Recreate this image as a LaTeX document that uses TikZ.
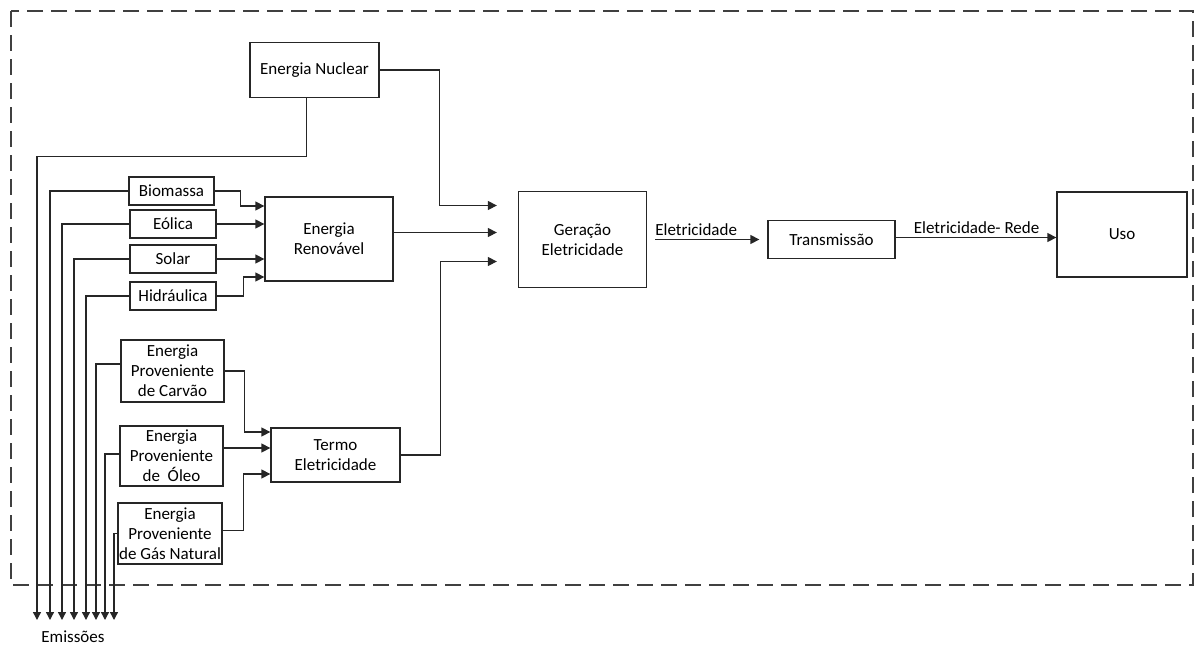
\documentclass[tikz,border=0pt]{standalone}
\usepackage{fontspec}
\setmainfont{Carlito}
\usetikzlibrary{arrows.meta,calc}
\begin{document}
\begin{tikzpicture}[x=1pt,y=-1pt,
  txt/.style={font=\fontsize{17}{20}\selectfont},
  box/.style={txt, draw=black!85, line width=1.3pt, align=center, inner sep=0pt},
  link/.style={draw=black!85, line width=1.3pt},
  arr/.style={link, -{Triangle[length=9pt,width=9pt]}},
  emarr/.style={link, -{Triangle[length=8pt,width=8pt]}},
  lbl/.style={txt, inner sep=0pt},
]
\useasboundingbox (0,0) rectangle (1197,646);
% system boundary
\draw[black!75, line width=1.2pt, dash pattern=on 16pt off 8pt] (11,11) rectangle (1193,585);

% sources
\node[box, minimum width=129pt, minimum height=55pt] (nuc) at (314.5,70) {Energia Nuclear};
\node[box, minimum width=85pt, minimum height=28pt] (bio) at (171.5,191) {Biomassa};
\node[box, minimum width=86pt, minimum height=28pt] (eol) at (173,224) {Eólica};
\node[box, minimum width=86pt, minimum height=28pt] (sol) at (173,259) {Solar};
\node[box, minimum width=86pt, minimum height=28pt] (hid) at (173,296) {Hidráulica};
\node[box, minimum width=103pt, minimum height=62pt] (car) at (172.5,371) {Energia\\Proveniente\\de Carvão};
\node[box, minimum width=103pt, minimum height=60pt] (ole) at (171.5,456) {Energia\\Proveniente\\de~ Óleo};
\node[box, minimum width=104pt, minimum height=61pt] (gas) at (170,533.5) {Energia\\Proveniente\\de Gás Natural};

% intermediate stages
\node[box, minimum width=128pt, minimum height=84pt] (ren) at (329,239) {Energia\\Renovável};
\node[box, minimum width=129pt, minimum height=54pt] (ter) at (335.5,455) {Termo\\Eletricidade};
\node[box, minimum width=128pt, minimum height=96pt] (ger) at (582.5,239.5) {Geração\\Eletricidade};
\node[box, minimum width=127pt, minimum height=38pt] (tra) at (831.5,239.5) {Transmissão};
\node[box, minimum width=130pt, minimum height=85pt] (uso) at (1122,234.5) {Uso};

% inputs to generation
\coordinate (gi1) at ($(ger.west)+(-21,-34)$);
\coordinate (gi2) at ($(ger.west)+(-21,-7)$);
\coordinate (gi3) at ($(ger.west)+(-21,22)$);
\draw[arr] (nuc.east) -- ++(60,0) |- (gi1);
\draw[arr] (ren.east |- gi2) -- (gi2);
\draw[arr] (ter.east) -- ++(40,0) |- (gi3);

% renewable inputs
\draw[arr] (bio.east) -- ++(26,0) |- ($(ren.west)+(0,-33)$);
\draw[arr] (eol.east) -- (eol.east -| ren.west);
\draw[arr] (sol.east) -- (sol.east -| ren.west);
\draw[arr] (hid.east) -- ++(27,0) |- ($(ren.west)+(0,38)$);

% thermal inputs
\coordinate (oleout) at ($(ole.east)+(0,-8)$);
\coordinate (gasout) at ($(gas.east)+(0,-3)$);
\draw[arr] (car.east) -- ++(20,0) |- ($(ter.west)+(0,-23)$);
\draw[arr] (oleout) -- (oleout -| ter.west);
\draw[arr] (gasout) -- ++(21,0) |- ($(ter.west)+(0,19)$);

% output chain
\coordinate (traout) at ($(tra.east)+(0,-2)$);
\draw[arr] ($(ger.east)+(8,0)$) -- ($(tra.west)+(-8,0)$);
\node[lbl, anchor=south west] (l1) at ($(ger.east)+(8,-4)$) {Eletricidade};
\draw[arr] (traout) -- (traout -| uso.west);
\node[lbl, anchor=south west] (l2) at ($(tra.east)+(18,-6)$) {Eletricidade- Rede};

% emissions
\coordinate (em1) at (37,620);
\coordinate (em2) at (50,620);
\coordinate (em3) at (62,620);
\coordinate (em4) at (74,620);
\coordinate (em5) at (86,620);
\coordinate (em6) at (96,620);
\coordinate (em7) at (105,620);
\coordinate (em8) at (114,620);
\draw[emarr] ($(nuc.south)+(-8,0)$) -- ++(0,58) -| (em1);
\draw[emarr] (bio.west) -| (em2);
\draw[emarr] (eol.west) -| (em3);
\draw[emarr] (sol.west) -| (em4);
\draw[emarr] (hid.west) -| (em5);
\draw[emarr] ($(car.west)+(0,-7)$) -| (em6);
\draw[emarr] ($(ole.west)+(0,-2)$) -| (em7);
\draw[emarr] (gas.west) -| (em8);
\node[lbl] (emi) at (73,637) {Emissões};
\end{tikzpicture}
\end{document}
